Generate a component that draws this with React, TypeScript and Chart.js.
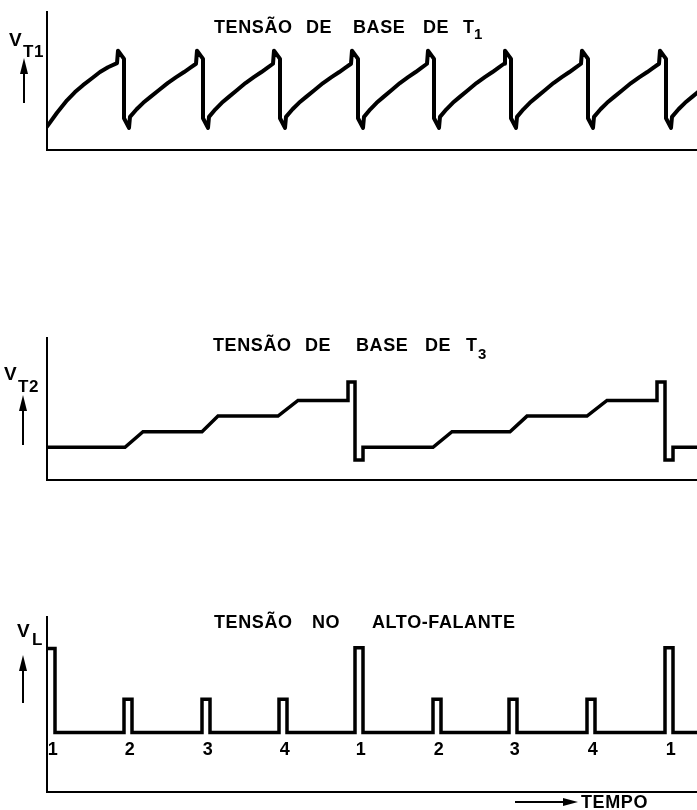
import React, { useEffect, useRef } from "react";
import { Chart, registerables } from "chart.js";
Chart.register(...registerables);

// ---------- DATA (time in arbitrary units, voltage in arbitrary units) ----------
// Panel 1: base voltage of T1 (relaxation sawtooth)
const sawPeakTimes = [14.2, 30.0, 45.4, 61.0, 76.2, 91.6, 107.0, 122.6];
// first charging curve
const firstRampTimes = [0, 2, 4, 5.6, 7.2, 9, 10.6, 12.2, 14.0];
const firstRampVolts = [1.7, 2.7, 3.6, 4.2, 4.7, 5.2, 5.65, 6.0, 6.3];
// shape of each later charging curve (fraction of the time between restart and next peak)
const rampFractions = [0, 0.1, 0.2, 0.31, 0.44, 0.57, 0.7, 0.82, 0.91, 1];
const rampVolts = [2.4, 2.95, 3.42, 3.85, 4.35, 4.85, 5.28, 5.65, 5.95, 6.25];
// flyback (peak, spike, drop, notch, restart) as time offsets after each peak
const flybackOffsets = [0, 1.2, 1.2, 2.2, 2.4];
const flybackVolts = [7.2, 6.6, 2.3, 1.6, 2.4];
const nominalRampSpan = 13;

// Panel 2: base voltage of T3 (staircase)
const t3Time = [
  0, 15.6, 19.2, 31.0, 34.2, 46.2, 50.2, 60.2, 60.2, 61.6, 61.6, 63.2, 63.2,
  77.2, 81.0, 92.6, 96.0, 108.0, 112.0, 122.0, 122.0, 123.6, 123.6, 125.2, 125.2, 130,
];
const t3Volt = [
  2.3, 2.3, 3.4, 3.4, 4.5, 4.5, 5.6, 5.6, 6.9, 6.9, 1.4, 1.4, 2.3,
  2.3, 3.4, 3.4, 4.5, 4.5, 5.6, 5.6, 6.9, 6.9, 1.4, 1.4, 2.3, 2.3,
];

// Panel 3: loudspeaker voltage (pulses)
const pulseStart = [0, 15.4, 31.0, 46.4, 61.6, 77.2, 92.4, 108.0, 123.6];
const pulseEnd = [1.6, 17.0, 32.6, 48.0, 63.2, 78.8, 94.0, 109.6, 125.2];
const pulseTop = [8.2, 5.3, 5.3, 5.3, 8.25, 5.3, 5.3, 5.3, 8.25];
const pulseLabels = ["1", "2", "3", "4", "1", "2", "3", "4", "1"];
const speakerBase = 3.4;
const timeMax = 130;

// ---------- helpers ----------
const FONT = "'Liberation Sans', Arial, sans-serif";

type Pt = { x: number; y: number };
type Txt = { s: string; x: number; y: number; size?: number; align?: CanvasTextAlign };
type Arrow = { x: number; top: number; bottom: number };

function zip(xs: number[], ys: number[]): Pt[] {
  return xs.map((x, i) => ({ x, y: ys[i] }));
}

function sawPoints(): Pt[] {
  const pts: Pt[] = zip(firstRampTimes, firstRampVolts);
  sawPeakTimes.forEach((p, i) => {
    flybackOffsets.forEach((o, k) => pts.push({ x: p + o, y: flybackVolts[k] }));
    const start = p + flybackOffsets[flybackOffsets.length - 1];
    const next = sawPeakTimes[i + 1];
    const span = next !== undefined ? next - 0.2 - start : nominalRampSpan;
    rampFractions.forEach((f, k) => {
      if (k > 0) pts.push({ x: start + f * span, y: rampVolts[k] });
    });
  });
  return pts;
}

function speakerPoints(): Pt[] {
  const pts: Pt[] = [];
  pulseStart.forEach((s, i) => {
    if (s > 0) pts.push({ x: s, y: speakerBase });
    pts.push({ x: s, y: pulseTop[i] });
    pts.push({ x: pulseEnd[i], y: pulseTop[i] });
    pts.push({ x: pulseEnd[i], y: speakerBase });
  });
  pts.push({ x: timeMax, y: speakerBase });
  return pts;
}

function decorPlugin(texts: Txt[], arrows: Arrow[], extra?: (chart: any, ctx: CanvasRenderingContext2D) => void) {
  return {
    id: "decor",
    afterDraw(chart: any) {
      const ctx: CanvasRenderingContext2D = chart.ctx;
      ctx.save();
      ctx.fillStyle = "#000";
      ctx.strokeStyle = "#000";
      ctx.textBaseline = "alphabetic";
      (ctx as any).letterSpacing = "0.6px";
      texts.forEach((t) => {
        ctx.font = `bold ${t.size ?? 18}px ${FONT}`;
        ctx.textAlign = t.align ?? "left";
        ctx.fillText(t.s, t.x, t.y);
      });
      arrows.forEach((a) => {
        ctx.lineWidth = 2;
        ctx.beginPath();
        ctx.moveTo(a.x, a.top + 12);
        ctx.lineTo(a.x, a.bottom);
        ctx.stroke();
        ctx.beginPath();
        ctx.moveTo(a.x, a.top);
        ctx.lineTo(a.x - 4, a.top + 16);
        ctx.lineTo(a.x + 4, a.top + 16);
        ctx.closePath();
        ctx.fill();
      });
      if (extra) extra(chart, ctx);
      ctx.restore();
    },
  };
}

function makeConfig(points: Pt[], width: number, padTop: number, padBottom: number, plugin: any, join: CanvasLineJoin) {
  const axis = {
    type: "linear" as const,
    grid: { display: false, drawTicks: false },
    ticks: { display: false },
    border: { display: true, color: "#000", width: 2 },
  };
  return {
    type: "scatter" as const,
    data: {
      datasets: [
        {
          data: points,
          showLine: true,
          borderColor: "#000",
          backgroundColor: "#000",
          borderWidth: width,
          pointRadius: 0,
          tension: 0,
          fill: false,
          borderJoinStyle: join,
          borderCapStyle: "round" as CanvasLineCap,
        },
      ],
    },
    options: {
      animation: false as const,
      responsive: false,
      events: [],
      layout: { padding: { left: 47, right: 0, top: padTop, bottom: padBottom } },
      plugins: { legend: { display: false }, tooltip: { enabled: false }, title: { display: false } },
      scales: {
        x: { ...axis, min: 0, max: timeMax },
        y: { ...axis, min: 0, max: 10 },
      },
    },
    plugins: [plugin],
  };
}

function Panel({ top, height, config }: { top: number; height: number; config: () => any }) {
  const ref = useRef<HTMLCanvasElement>(null);
  useEffect(() => {
    const chart = new Chart(ref.current as HTMLCanvasElement, config());
    return () => chart.destroy();
  }, []);
  return (
    <canvas
      ref={ref}
      width={697}
      height={height}
      style={{ position: "absolute", left: 0, top, width: 697, height }}
    />
  );
}

const panel1 = () =>
  makeConfig(
    sawPoints(),
    4,
    12,
    15,
    decorPlugin(
      [
        { s: "TENSÃO", x: 214, y: 33 },
        { s: "DE", x: 306, y: 33 },
        { s: "BASE", x: 353, y: 33 },
        { s: "DE", x: 423, y: 33 },
        { s: "T", x: 463, y: 33 },
        { s: "1", x: 474, y: 39, size: 15 },
        { s: "V", x: 9, y: 46, size: 19 },
        { s: "T1", x: 23, y: 57, size: 17 },
      ],
      [{ x: 24, top: 58, bottom: 103 }]
    ),
    "round"
  );

const panel2 = () =>
  makeConfig(
    zip(t3Time, t3Volt),
    3.5,
    18,
    15,
    decorPlugin(
      [
        { s: "TENSÃO", x: 213, y: 31 },
        { s: "DE", x: 305, y: 31 },
        { s: "BASE", x: 356, y: 31 },
        { s: "DE", x: 425, y: 31 },
        { s: "T", x: 466, y: 31 },
        { s: "3", x: 478, y: 39, size: 15 },
        { s: "V", x: 4, y: 60, size: 19 },
        { s: "T2", x: 18, y: 72, size: 17 },
      ],
      [{ x: 23, top: 75, bottom: 125 }]
    ),
    "miter"
  );

const panel3 = () =>
  makeConfig(
    speakerPoints(),
    3.5,
    17,
    18,
    decorPlugin(
      [
        { s: "TENSÃO", x: 214, y: 28 },
        { s: "NO", x: 312, y: 28 },
        { s: "ALTO-FALANTE", x: 372, y: 28 },
        { s: "V", x: 17, y: 37, size: 19 },
        { s: "L", x: 32, y: 45, size: 17 },
        { s: "TEMPO", x: 581, y: 208, size: 18 },
      ],
      [{ x: 23, top: 55, bottom: 103 }],
      (chart, ctx) => {
        const xs = chart.scales.x;
        ctx.font = `bold 18px ${FONT}`;
        ctx.textAlign = "center";
        pulseLabels.forEach((lab, i) => {
          const px = xs.getPixelForValue((pulseStart[i] + pulseEnd[i]) / 2) + 2;
          ctx.fillText(lab, px, 155);
        });
        // time arrow
        ctx.lineWidth = 2;
        ctx.beginPath();
        ctx.moveTo(515, 202);
        ctx.lineTo(566, 202);
        ctx.stroke();
        ctx.beginPath();
        ctx.moveTo(578, 202);
        ctx.lineTo(563, 198);
        ctx.lineTo(563, 206);
        ctx.closePath();
        ctx.fill();
      }
    ),
    "miter"
  );

export default function App() {
  return (
    <div style={{ position: "absolute", left: 0, top: 0, width: 697, height: 810, background: "#fff", overflow: "hidden" }}>
      <Panel top={0} height={165} config={panel1} />
      <Panel top={320} height={175} config={panel2} />
      <Panel top={600} height={210} config={panel3} />
    </div>
  );
}
